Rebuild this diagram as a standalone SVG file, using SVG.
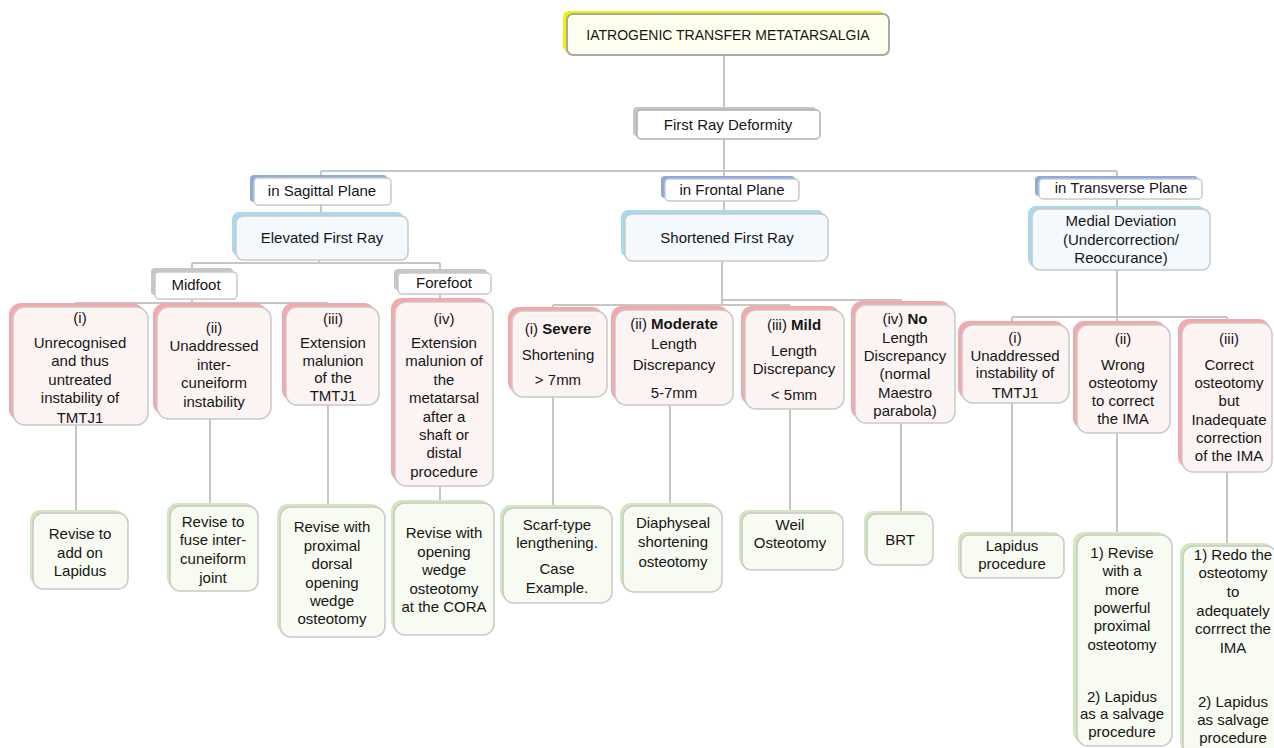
<svg xmlns="http://www.w3.org/2000/svg" width="1274" height="748" viewBox="0 0 1274 748">
<defs>
<style>
.conn{stroke:#c6c6c6;stroke-width:2;fill:none}
.box{stroke:#c9c9c9;stroke-width:1.5}
.pink{fill:#fcf3f3}
.green{fill:#f7fbf2}
.lblue{fill:#f3f9fd}
.white{fill:#ffffff}
.acc-pink{fill:#f3a9a9}
.acc-green{fill:#d1e8ba}
.acc-gray{fill:#c6c6c6}
.acc-blue{fill:#8eaadb}
.acc-lblue{fill:#a8d9ef}
.acc-yellow{fill:#f2f200}
.t{font-family:"Liberation Sans",Arial,sans-serif;font-size:15px;fill:#161616;text-anchor:middle}
.b{font-weight:bold}
</style>
</defs>
<rect width="1274" height="748" fill="#ffffff"/>

<g id="connectors">
<path class="conn" d="M724,55V110"/>
<path class="conn" d="M724,139V171M321,171H1117M321,171V178M724,171V179M1117,171V179"/>
<path class="conn" d="M321,205V216M724,201V214M1117,198V209"/>
<path class="conn" d="M319,260V263M192,263H440M192,263V272M440,263V273"/>
<path class="conn" d="M192,299V303M75,303H328M75,303V307M210,303V307M328,303V307"/>
<path class="conn" d="M440,294V302"/>
<path class="conn" d="M722,261V305M722,300H901V305M553,305H790M553,305V311M670,305V310M790,305V310"/>
<path class="conn" d="M1117,270V317M1012,317H1227M1012,317V325M1117,317V325M1227,317V323"/>
<path class="conn" d="M76,425V513M210,419V506M328,405V507M440,486V503M553,397V508M670,405V506M790,409V513M901,423V514M1012,403V535M1117,433V535M1227,472V546"/>
</g>

<g id="n-title">
<rect class="acc-yellow" x="563" y="11" width="322" height="41" rx="6"/>
<rect x="567" y="14" width="322" height="41" rx="6" fill="#fffff0" stroke="#a8a8a8" stroke-width="2"/>
<text class="t" x="728" y="40" style="font-size:14px">IATROGENIC TRANSFER METATARSALGIA</text>
</g>

<g id="n-first-ray">
<rect class="acc-gray" x="633" y="107" width="183" height="29" rx="4"/>
<rect class="white" x="637" y="110" width="183" height="29" rx="4" stroke="#b0b0b0" stroke-width="1.5"/>
<text class="t" x="728" y="130">First Ray Deformity</text>
</g>

<g id="n-sagittal">
<rect class="acc-blue" x="250" y="175" width="137" height="27" rx="4"/>
<rect class="white box" x="254" y="178" width="137" height="27" rx="4"/>
<text class="t" x="322" y="196">in Sagittal Plane</text>
</g>
<g id="n-frontal">
<rect class="acc-blue" x="661" y="176" width="134" height="22" rx="4"/>
<rect class="white box" x="665" y="179" width="134" height="22" rx="4"/>
<text class="t" x="732" y="195">in Frontal Plane</text>
</g>
<g id="n-transverse">
<rect class="acc-blue" x="1035" y="176" width="163" height="20" rx="4"/>
<rect class="white box" x="1039" y="179" width="163" height="20" rx="4"/>
<text class="t" x="1121" y="193">in Transverse Plane</text>
</g>

<g id="n-elevated">
<rect class="acc-lblue" x="232" y="212" width="172" height="44" rx="7"/>
<rect class="lblue box" x="236" y="216" width="172" height="44" rx="7"/>
<text class="t" x="322" y="243">Elevated First Ray</text>
</g>
<g id="n-shortened">
<rect class="acc-lblue" x="621" y="210" width="203" height="47" rx="7"/>
<rect class="lblue box" x="625" y="214" width="203" height="47" rx="7"/>
<text class="t" x="727" y="243">Shortened First Ray</text>
</g>
<g id="n-medial">
<rect class="acc-lblue" x="1028" y="206" width="178" height="61" rx="8"/>
<rect class="lblue box" x="1032" y="209" width="178" height="61" rx="8"/>
<text class="t" x="1121" y="226">Medial Deviation</text>
<text class="t" x="1121" y="245">(Undercorrection/</text>
<text class="t" x="1121" y="263">Reoccurance)</text>
</g>

<g id="n-midfoot">
<rect class="acc-gray" x="151" y="268" width="82" height="27" rx="4"/>
<rect class="white box" x="155" y="272" width="82" height="27" rx="4"/>
<text class="t" x="196" y="290">Midfoot</text>
</g>
<g id="n-forefoot">
<rect class="acc-gray" x="394" y="269" width="93" height="21" rx="4"/>
<rect class="white box" x="398" y="273" width="93" height="21" rx="4"/>
<text class="t" x="444" y="288">Forefoot</text>
</g>

<g id="n-s1">
<rect class="acc-pink" x="9" y="303" width="135" height="118" rx="12"/>
<rect class="pink box" x="13" y="307" width="135" height="118" rx="12"/>
<text class="t" x="80" y="323">(i)</text>
<text class="t" x="80" y="348">Unrecognised</text>
<text class="t" x="80" y="366">and thus</text>
<text class="t" x="80" y="385">untreated</text>
<text class="t" x="80" y="403">instability of</text>
<text class="t" x="80" y="423">TMTJ1</text>
</g>
<g id="n-s2">
<rect class="acc-pink" x="153" y="303" width="114" height="112" rx="12"/>
<rect class="pink box" x="157" y="307" width="114" height="112" rx="12"/>
<text class="t" x="214" y="333">(ii)</text>
<text class="t" x="214" y="351">Unaddressed</text>
<text class="t" x="214" y="370">inter-</text>
<text class="t" x="214" y="388">cuneiform</text>
<text class="t" x="214" y="407">instability</text>
</g>
<g id="n-s3">
<rect class="acc-pink" x="282" y="303" width="93" height="98" rx="11"/>
<rect class="pink box" x="286" y="307" width="93" height="98" rx="11"/>
<text class="t" x="333" y="324">(iii)</text>
<text class="t" x="333" y="348">Extension</text>
<text class="t" x="333" y="366">malunion</text>
<text class="t" x="333" y="383">of the</text>
<text class="t" x="333" y="401">TMTJ1</text>
</g>
<g id="n-s4">
<rect class="acc-pink" x="391" y="298" width="98" height="184" rx="11"/>
<rect class="pink box" x="395" y="302" width="98" height="184" rx="11"/>
<text class="t" x="444" y="324">(iv)</text>
<text class="t" x="444" y="348">Extension</text>
<text class="t" x="444" y="366">malunion of</text>
<text class="t" x="444" y="385">the</text>
<text class="t" x="444" y="403">metatarsal</text>
<text class="t" x="444" y="422">after a</text>
<text class="t" x="444" y="440">shaft or</text>
<text class="t" x="444" y="458">distal</text>
<text class="t" x="444" y="477">procedure</text>
</g>

<g id="n-f1">
<rect class="acc-pink" x="508" y="307" width="95" height="86" rx="11"/>
<rect class="pink box" x="512" y="311" width="95" height="86" rx="11"/>
<text class="t" x="558" y="334">(i) <tspan class="b">Severe</tspan></text>
<text class="t" x="558" y="360">Shortening</text>
<text class="t" x="558" y="385">&gt; 7mm</text>
</g>
<g id="n-f2">
<rect class="acc-pink" x="611" y="306" width="118" height="95" rx="11"/>
<rect class="pink box" x="615" y="310" width="118" height="95" rx="11"/>
<text class="t" x="674" y="329">(ii) <tspan class="b">Moderate</tspan></text>
<text class="t" x="674" y="349">Length</text>
<text class="t" x="674" y="370">Discrepancy</text>
<text class="t" x="674" y="398">5-7mm</text>
</g>
<g id="n-f3">
<rect class="acc-pink" x="741" y="306" width="99" height="99" rx="11"/>
<rect class="pink box" x="745" y="310" width="99" height="99" rx="11"/>
<text class="t" x="794" y="330">(iii) <tspan class="b">Mild</tspan></text>
<text class="t" x="794" y="356">Length</text>
<text class="t" x="794" y="374">Discrepancy</text>
<text class="t" x="794" y="400">&lt; 5mm</text>
</g>
<g id="n-f4">
<rect class="acc-pink" x="851" y="301" width="100" height="118" rx="11"/>
<rect class="pink box" x="855" y="305" width="100" height="118" rx="11"/>
<text class="t" x="905" y="324">(iv) <tspan class="b">No</tspan></text>
<text class="t" x="905" y="343">Length</text>
<text class="t" x="905" y="361">Discrepancy</text>
<text class="t" x="905" y="379">(normal</text>
<text class="t" x="905" y="398">Maestro</text>
<text class="t" x="905" y="416">parabola)</text>
</g>

<g id="n-t1">
<rect class="acc-pink" x="958" y="321" width="107" height="78" rx="11"/>
<rect class="pink box" x="962" y="325" width="107" height="78" rx="11"/>
<text class="t" x="1015" y="343">(i)</text>
<text class="t" x="1015" y="361">Unaddressed</text>
<text class="t" x="1015" y="378">instability of</text>
<text class="t" x="1015" y="398">TMTJ1</text>
</g>
<g id="n-t2">
<rect class="acc-pink" x="1073" y="321" width="93" height="108" rx="11"/>
<rect class="pink box" x="1077" y="325" width="93" height="108" rx="11"/>
<text class="t" x="1123" y="344">(ii)</text>
<text class="t" x="1123" y="370">Wrong</text>
<text class="t" x="1123" y="388">osteotomy</text>
<text class="t" x="1123" y="406">to correct</text>
<text class="t" x="1123" y="424">the IMA</text>
</g>
<g id="n-t3">
<rect class="acc-pink" x="1178" y="319" width="92" height="149" rx="11"/>
<rect class="pink box" x="1182" y="323" width="90" height="149" rx="11"/>
<text class="t" x="1229" y="344">(iii)</text>
<text class="t" x="1229" y="370">Correct</text>
<text class="t" x="1229" y="388">osteotomy</text>
<text class="t" x="1229" y="406">but</text>
<text class="t" x="1229" y="425">Inadequate</text>
<text class="t" x="1229" y="443">correction</text>
<text class="t" x="1229" y="461">of the IMA</text>
</g>

<g id="n-g1">
<rect class="acc-green" x="30" y="510" width="95" height="76" rx="10"/>
<rect class="green box" x="33" y="513" width="95" height="76" rx="10"/>
<text class="t" x="80" y="539">Revise to</text>
<text class="t" x="80" y="558">add on</text>
<text class="t" x="80" y="576">Lapidus</text>
</g>
<g id="n-g2">
<rect class="acc-green" x="167" y="503" width="88" height="85" rx="10"/>
<rect class="green box" x="170" y="506" width="88" height="85" rx="10"/>
<text class="t" x="213" y="527">Revise to</text>
<text class="t" x="213" y="545">fuse inter-</text>
<text class="t" x="213" y="564">cuneiform</text>
<text class="t" x="213" y="583">joint</text>
</g>
<g id="n-g3">
<rect class="acc-green" x="277" y="504" width="105" height="130" rx="11"/>
<rect class="green box" x="280" y="507" width="105" height="130" rx="11"/>
<text class="t" x="332" y="532">Revise with</text>
<text class="t" x="332" y="551">proximal</text>
<text class="t" x="332" y="569">dorsal</text>
<text class="t" x="332" y="588">opening</text>
<text class="t" x="332" y="606">wedge</text>
<text class="t" x="332" y="624">osteotomy</text>
</g>
<g id="n-g4">
<rect class="acc-green" x="391" y="500" width="100" height="132" rx="11"/>
<rect class="green box" x="394" y="503" width="100" height="132" rx="11"/>
<text class="t" x="444" y="538">Revise with</text>
<text class="t" x="444" y="557">opening</text>
<text class="t" x="444" y="575">wedge</text>
<text class="t" x="444" y="594">osteotomy</text>
<text class="t" x="444" y="612">at the CORA</text>
</g>
<g id="n-g5">
<rect class="acc-green" x="500" y="505" width="109" height="95" rx="11"/>
<rect class="green box" x="503" y="508" width="109" height="95" rx="11"/>
<text class="t" x="557" y="530">Scarf-type</text>
<text class="t" x="557" y="548">lengthening.</text>
<text class="t" x="557" y="574">Case</text>
<text class="t" x="557" y="593">Example.</text>
</g>
<g id="n-g6">
<rect class="acc-green" x="620" y="503" width="99" height="86" rx="11"/>
<rect class="green box" x="623" y="506" width="99" height="86" rx="11"/>
<text class="t" x="673" y="528">Diaphyseal</text>
<text class="t" x="673" y="547">shortening</text>
<text class="t" x="673" y="567">osteotomy</text>
</g>
<g id="n-g7">
<rect class="acc-green" x="739" y="510" width="101" height="57" rx="9"/>
<rect class="green box" x="742" y="513" width="101" height="57" rx="9"/>
<text class="t" x="790" y="530">Weil</text>
<text class="t" x="790" y="548">Osteotomy</text>
</g>
<g id="n-g8">
<rect class="acc-green" x="864" y="511" width="66" height="51" rx="9"/>
<rect class="green box" x="867" y="514" width="66" height="51" rx="9"/>
<text class="t" x="900" y="545">BRT</text>
</g>
<g id="n-g9">
<rect class="acc-green" x="958" y="532" width="103" height="43" rx="8"/>
<rect class="green box" x="961" y="535" width="103" height="43" rx="8"/>
<text class="t" x="1012" y="551">Lapidus</text>
<text class="t" x="1012" y="569">procedure</text>
</g>
<g id="n-g10">
<rect class="acc-green" x="1073" y="532" width="95" height="211" rx="11"/>
<rect class="green box" x="1077" y="535" width="95" height="211" rx="11"/>
<text class="t" x="1122" y="558">1) Revise</text>
<text class="t" x="1122" y="576">with a</text>
<text class="t" x="1122" y="595">more</text>
<text class="t" x="1122" y="613">powerful</text>
<text class="t" x="1122" y="631">proximal</text>
<text class="t" x="1122" y="650">osteotomy</text>
<text class="t" x="1122" y="702">2) Lapidus</text>
<text class="t" x="1122" y="719">as a salvage</text>
<text class="t" x="1122" y="737">procedure</text>
</g>
<g id="n-g11">
<rect class="acc-green" x="1180" y="543" width="94" height="210" rx="11"/>
<rect class="green box" x="1183" y="546" width="94" height="210" rx="11"/>
<text class="t" x="1233" y="560">1) Redo the</text>
<text class="t" x="1233" y="578">osteotomy</text>
<text class="t" x="1233" y="597">to</text>
<text class="t" x="1233" y="616">adequately</text>
<text class="t" x="1233" y="634">corrrect the</text>
<text class="t" x="1233" y="653">IMA</text>
<text class="t" x="1233" y="707">2) Lapidus</text>
<text class="t" x="1233" y="725">as salvage</text>
<text class="t" x="1233" y="743">procedure</text>
</g>
</svg>
